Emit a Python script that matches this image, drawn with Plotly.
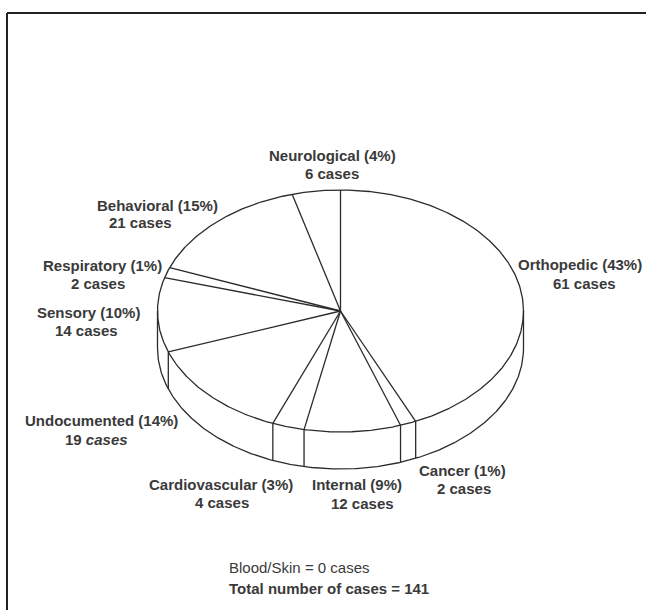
import numpy as np
import plotly.graph_objects as go

# ---- data -------------------------------------------------------------
categories = ["Orthopedic", "Cancer", "Internal", "Cardiovascular", "Undocumented",
              "Sensory", "Respiratory", "Behavioral", "Neurological"]
cases = [61, 2, 12, 4, 19, 14, 2, 21, 6]
percent_labels = [43, 1, 9, 3, 14, 10, 1, 15, 4]
blood_skin_cases = 0
total_cases = sum(cases)

# ---- pie geometry (plot units = page pixels) --------------------------
CX, CY = 340.5, 311.0      # centre of the top face
RX, RY = 183.0, 121.0      # ellipse radii of the top face
DEPTH = 37.0               # thickness of the disc
LINE = dict(color="#2b2b2b", width=1.3)
INK = "#3a3a3a"


def pt(theta_deg, drop=0.0):
    t = np.radians(theta_deg)
    return CX + RX * np.cos(t), CY - RY * np.sin(t) + drop


# slice boundaries, clockwise from 12 o'clock
cum = np.concatenate([[0], np.cumsum(cases)])
bounds = [90 - 360 * c / total_cases for c in cum[:-1]]

fig = go.Figure()

# top face outline
th = np.linspace(0, 360, 721)
x, y = pt(th)
fig.add_trace(go.Scatter(x=x, y=y, mode="lines", line=LINE, hoverinfo="skip"))

# front rim of the bottom face (lower half only)
th = np.linspace(180, 360, 361)
x, y = pt(th, DEPTH)
fig.add_trace(go.Scatter(x=x, y=y, mode="lines", line=LINE, hoverinfo="skip"))

# radial slice edges on the top face
rx, ry = [], []
for b in bounds:
    ex, ey = pt(b)
    rx += [CX, ex, None]
    ry += [CY, ey, None]
fig.add_trace(go.Scatter(x=rx, y=ry, mode="lines", line=LINE, hoverinfo="skip"))

# vertical edges on the visible side wall
vx, vy = [], []
front = [b % 360 for b in bounds if np.sin(np.radians(b)) < 0] + [180.0, 360.0]
for b in front:
    ex, ey = pt(b)
    vx += [ex, ex, None]
    vy += [ey, ey + DEPTH, None]
fig.add_trace(go.Scatter(x=vx, y=vy, mode="lines", line=LINE, hoverinfo="skip"))

# ---- labels -----------------------------------------------------------
# (name line x, y, anchor), (cases line x, y)
label_layout = {
    "Orthopedic": ((644, 264, "right"), (584, 283)),
    "Cancer": ((462, 470, "center"), (464, 488)),
    "Internal": ((357, 484, "center"), (362, 503)),
    "Cardiovascular": ((221, 484, "center"), (222, 502)),
    "Undocumented": ((101, 420, "center"), (96, 439)),
    "Sensory": ((88, 312, "center"), (86, 330)),
    "Respiratory": ((102, 265, "center"), (98, 283)),
    "Behavioral": ((157, 205, "center"), (140, 222)),
    "Neurological": ((332, 155, "center"), (332, 173)),
}

FONT = "Liberation Sans, Arial, Helvetica, sans-serif"
annotations = []
for name, n, p in zip(categories, cases, percent_labels):
    (x1, y1, anc), (x2, y2) = label_layout[name]
    annotations.append(dict(x=x1, y=y1, xanchor=anc, yanchor="middle",
                            text=f"<b>{name} ({p}%)</b>", showarrow=False,
                            font=dict(family=FONT, size=15, color=INK)))
    word = "<i>cases</i>" if name == "Undocumented" else "cases"
    annotations.append(dict(x=x2, y=y2, xanchor="center", yanchor="middle",
                            text=f"<b>{n} {word}</b>", showarrow=False,
                            font=dict(family=FONT, size=15, color=INK)))

annotations.append(dict(x=227, y=567, xanchor="left", yanchor="middle",
                        text=f"Blood/Skin = {blood_skin_cases} cases", showarrow=False,
                        font=dict(family=FONT, size=15, color=INK)))
annotations.append(dict(x=227, y=588, xanchor="left", yanchor="middle",
                        text=f"<b>Total number of cases = {total_cases}</b>", showarrow=False,
                        font=dict(family=FONT, size=15, color=INK)))

# page frame (top and left rules)
frame = dict(color="#222222", width=2)
shapes = [
    dict(type="line", xref="x", yref="y", x0=7, y0=13, x1=646, y1=13, line=frame),
    dict(type="line", xref="x", yref="y", x0=7, y0=13, x1=7, y1=610, line=frame),
]

fig.update_layout(
    width=646, height=610, autosize=False,
    margin=dict(l=0, r=0, t=0, b=0),
    paper_bgcolor="white", plot_bgcolor="white",
    showlegend=False,
    xaxis=dict(range=[0, 646], visible=False, fixedrange=True),
    yaxis=dict(range=[610, 0], visible=False, fixedrange=True),
    annotations=annotations, shapes=shapes,
)

fig.write_html("out.html")
